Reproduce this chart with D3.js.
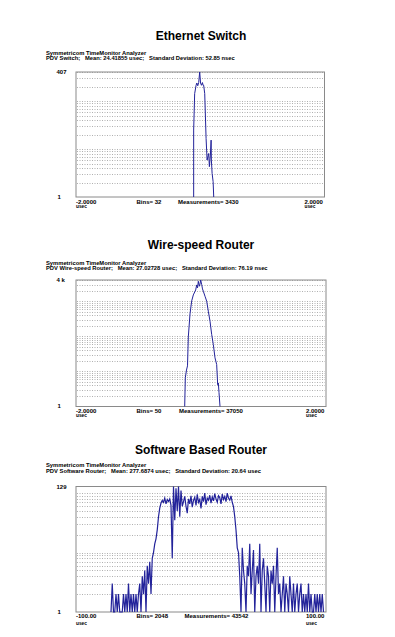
<!DOCTYPE html>
<html>
<head>
<meta charset="utf-8">
<script src="https://cdn.jsdelivr.net/npm/d3@7"></script>
<style>
  body { margin: 0; background: #fff; }
  text { font-family: "Liberation Sans", Arial, sans-serif; }
</style>
</head>
<body>
<div id="chart"></div>
<script>
// Ethernet switch histogram (usec, count)
const ethX = [-0.106, -0.106, -0.090, -0.067, -0.055, -0.040, -0.025, -0.009, 0.005, 0.020, 0.035, 0.045,
  0.055, 0.072, 0.094, 0.110, 0.136, 0.147, 0.163, 0.175, 0.179, 0.191, 0.207, 0.217];
const ethY = [1, 25, 144, 215, 240, 210, 245, 407, 240, 215, 245, 215,
  215, 144, 16.7, 5.9, 8.1, 4.3, 7.5, 15.4, 5.9, 3.1, 2.1, 1];

// Wire-speed router histogram
const wireX = [-0.261, -0.251, -0.232, -0.216, -0.203, -0.176, -0.149, -0.123, -0.085, -0.069, -0.056,
  -0.043, -0.027, -0.016, -0.005, 0.011, 0.024, 0.037, 0.064, 0.091, 0.117, 0.144, 0.171, 0.197,
  0.224, 0.240, 0.251, 0.267, 0.277, 0.288, 0.304];
const wireY = [1, 6.6, 11, 14.5, 97, 440, 1035, 1535, 2130, 2960, 2430,
  3770, 2715, 3160, 4096, 3015, 2275, 1955, 1408, 1014, 526, 273, 113, 59,
  24.5, 18.8, 15.8, 4.2, 4.7, 2.5, 1];

// Software router histogram, one count per usec from -72 to 98
const softStart = -72;
const softStep = 1;
const softY = [
  1, 3, 1, 1, 2, 1, 2, 1, 1, 1, 2, 1, 2, 1, 3, 1, 2, 1, 2, 1, 2, 1, 2, 3, 1,
  4, 2, 5, 1, 6, 3, 7, 2, 8,
  10, 14, 17, 24, 40, 56, 68,
  75, 70, 82, 66, 78, 72, 80, 62,
  8,
  129, 35, 120, 50, 129, 40, 110, 60,
  72, 88, 60, 46, 80, 66, 90, 58, 75, 85, 62, 95, 70, 78, 55, 88, 72, 100, 64, 82,
  76, 92, 68, 86, 74, 98, 80, 70, 90, 84, 66, 96, 78, 88, 72, 100, 82, 76, 90,
  70, 59, 40, 24, 12,
  10, 4, 1, 12, 5, 3, 1, 6, 4, 14, 2, 5, 11, 1, 4, 6, 3, 14, 1, 5, 8, 3, 1, 6, 4,
  1, 5, 3, 6, 1, 4, 12, 2,
  3, 1, 2, 4, 1, 3, 2, 1, 4, 2, 1, 3, 1, 2, 3, 1, 2, 3, 1, 2, 1, 2, 1, 3, 1,
  2, 1, 1, 2, 1, 2, 1, 2, 1, 2, 1];

const titles = ["Ethernet Switch", "Wire-speed Router", "Software Based Router"];
const subtitles = [
  "PDV Switch;   Mean: 24.41855 usec;   Standard Deviation: 52.85 nsec",
  "PDV Wire-speed Router;   Mean: 27.02728 usec;   Standard Deviation: 76.19 nsec",
  "PDV Software Router;   Mean: 277.6874 usec;   Standard Deviation: 20.64 usec"
];
const yMaxLabels = ["407", "4 k", "129"];
const yMax = [407, 4096, 129];
const xMinLabels = ["-2.0000", "-2.0000", "-100.00"];
const xMaxLabels = ["2.0000", "2.0000", "100.00"];
const xDomains = [[-2, 2], [-2, 2], [-100, 100]];
const binsLabels = ["Bins= 32", "Bins= 50", "Bins= 2048"];
const measLabels = ["Measurements= 3430", "Measurements= 37050", "Measurements= 43542"];

const series = [
  ethX.map((x, i) => [x, ethY[i]]),
  wireX.map((x, i) => [x, wireY[i]]),
  softY.map((y, i) => [softStart + i * softStep, y])
];

const svg = d3.select("#chart").append("svg")
  .attr("width", 395)
  .attr("height", 637);

// layout per panel
const panels = [
  { top: 72, bottom: 197, left: 76, right: 324.5, titleY: 39.5, sub1: 54.5, sub2: 59.5, lab1: 203.5, lab2: 207.5, measX: 178 },
  { top: 280, bottom: 406.5, left: 76, right: 326, titleY: 249, sub1: 264.5, sub2: 269.5, lab1: 412.5, lab2: 416.5, measX: 179 },
  { top: 486.5, bottom: 612, left: 76, right: 326, titleY: 454, sub1: 466.8, sub2: 472.6, lab1: 618, lab2: 624.5, measX: 184.5 }
];

panels.forEach((p, k) => {
  const g = svg.append("g");

  const x = d3.scaleLinear().domain(xDomains[k]).range([p.left, p.right]);
  const y = d3.scaleLog().domain([1, yMax[k]]).range([p.bottom, p.top]);

  g.append("text")
    .attr("x", 201)
    .attr("y", p.titleY)
    .attr("text-anchor", "middle")
    .style("font-size", "12px")
    .style("font-weight", "bold")
    .text(titles[k]);

  g.append("text")
    .attr("x", 46)
    .attr("y", p.sub1)
    .style("font-size", "5.8px")
    .style("font-weight", "bold")
    .text("Symmetricom TimeMonitor Analyzer");

  g.append("text")
    .attr("x", 46)
    .attr("y", p.sub2)
    .style("font-size", "5.8px")
    .style("font-weight", "bold")
    .style("white-space", "pre")
    .attr("xml:space", "preserve")
    .text(subtitles[k]);

  // log grid
  const ticks = y.ticks().filter((t) => t > 1 && t < yMax[k]);
  g.selectAll("line.grid")
    .data(ticks)
    .enter()
    .append("line")
    .attr("class", "grid")
    .attr("x1", p.left + 1)
    .attr("x2", p.right - 1)
    .attr("y1", (d) => Math.round(y(d)) + 0.5)
    .attr("y2", (d) => Math.round(y(d)) + 0.5)
    .attr("stroke", "#9c9c9c")
    .attr("stroke-width", 0.8)
    .attr("stroke-dasharray", "1,1.5");

  g.append("rect")
    .attr("x", p.left)
    .attr("y", p.top)
    .attr("width", p.right - p.left)
    .attr("height", p.bottom - p.top)
    .attr("fill", "none")
    .attr("stroke", "#8a8a8a")
    .attr("stroke-width", 1);

  const line = d3.line()
    .x((d) => x(d[0]))
    .y((d) => y(Math.max(1, d[1])));

  g.append("path")
    .datum(series[k])
    .attr("d", line)
    .attr("fill", "none")
    .attr("stroke", "#23239a")
    .attr("stroke-width", k === 2 ? 1.2 : 1);

  // y labels
  g.append("text")
    .attr("x", 56.5)
    .attr("y", p.top + 2)
    .style("font-size", "6px")
    .style("font-weight", "bold")
    .text(yMaxLabels[k]);

  g.append("text")
    .attr("x", 57.5)
    .attr("y", p.bottom + 1.5)
    .style("font-size", "6px")
    .style("font-weight", "bold")
    .text("1");

  // bottom labels
  const bottomTexts = [
    [p.left, p.lab1, xMinLabels[k]],
    [p.left, p.lab2, "usec"],
    [p.right - 20, p.lab1, xMaxLabels[k]],
    [p.right - 20, p.lab2, "usec"],
    [136.5, p.lab1, binsLabels[k]],
    [p.measX, p.lab1, measLabels[k]]
  ];
  bottomTexts.forEach((t) => {
    g.append("text")
      .attr("x", t[0])
      .attr("y", t[1])
      .style("font-size", t[2] === "usec" ? "4.8px" : "6px")
      .style("font-weight", "bold")
      .text(t[2]);
  });
});
</script>
</body>
</html>
